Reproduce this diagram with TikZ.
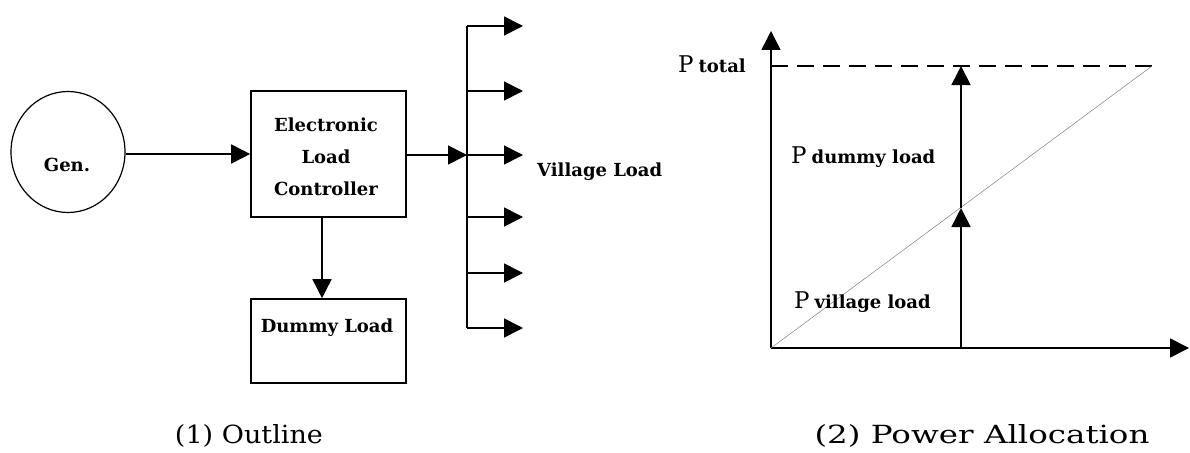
\documentclass[tikz,border=0pt]{standalone}
\usepackage{fontspec}
\setmainfont{DejaVu Serif}
\usetikzlibrary{arrows.meta,shapes.geometric}
\newcommand{\fitw}[2]{\resizebox{#1}{\height}{#2}}
\tikzset{
  arr/.style={-{Triangle[length=19pt,width=19pt]}},
  ln/.style={line width=1.6pt},
  blk/.style={draw,line width=1.6pt,inner sep=0pt},
  lbl/.style={font=\fontsize{18}{20}\selectfont\bfseries,inner sep=0pt},
  captxt/.style={font=\fontsize{25}{28}\selectfont,inner sep=0pt},
  plbl/.style={inner sep=0pt},
}
\newcommand{\Psub}[1]{{\fontsize{23}{26}\selectfont P}\hspace{5pt}{\fontsize{18}{20}\selectfont\bfseries #1}}
\begin{document}
\begin{tikzpicture}[x=1pt,y=-1pt]
\useasboundingbox (0,0) rectangle (1190,452);
% ---------- (1) Outline ----------
\node[draw,ellipse,line width=1.2pt,minimum width=114pt,minimum height=121pt,inner sep=0pt] (gen) at (68,152) {};
\node[lbl] (gentxt) at (67,165) {Gen.};
\node[blk,minimum width=155pt,minimum height=126pt] (elc) at (328.5,154) {};
\node[lbl] (elc1) at (326,125) {Electronic};
\node[lbl] (elc2) at (326,157) {Load};
\node[lbl] (elc3) at (326,189) {Controller};
\node[blk,minimum width=155pt,minimum height=84pt] (dummy) at (328.5,341) {};
\node[lbl] (dummytxt) at (327,328) {Dummy Load};
\draw[ln,arr] (gen.east |- 0,154) -- (elc.west |- 0,154);
\draw[ln,arr] ([xshift=-6.5pt]elc.south) -- ([xshift=-6.5pt]dummy.north);
% bus
\coordinate (bus1) at (467,26);
\coordinate (bus2) at (467,91);
\coordinate (bus3) at (467,155);
\coordinate (bus4) at (467,217);
\coordinate (bus5) at (467,273);
\coordinate (bus6) at (467,328);
\coordinate (out1) at (523,26);
\coordinate (out2) at (523,91);
\coordinate (out3) at (523,155);
\coordinate (out4) at (523,217);
\coordinate (out5) at (523,273);
\coordinate (out6) at (523,328);
\draw[ln] (bus1) -- (bus6);
\draw[ln,arr] (elc.east |- bus3) -- (bus3);
\foreach \i in {1,...,6} \draw[ln,arr] (bus\i) -- (out\i);
\node[lbl,anchor=west] (village) at (537,172) {Village Load};
\node[captxt] (cap1) at (249,436) {\fitw{148pt}{(1) Outline}};
% ---------- (2) Power Allocation ----------
\coordinate (O) at (771,348);
\coordinate (ytop) at (771,31);
\coordinate (xend) at (1189,348);
\coordinate (ptot) at (771,66);
\coordinate (tr) at (1152,66);
\coordinate (vb) at (961,348);
\coordinate (vm) at (961,208);
\coordinate (vt) at (961,66);
\draw[ln,arr] (O) -- (ytop);
\draw[ln,arr] (O) -- (xend);
\draw[ln,dash pattern=on 17pt off 9pt] (ptot) -- (tr);
\draw[line width=0.5pt,gray] (O) -- (tr);
\draw[ln,arr] (vb) -- (vm);
\draw[ln,arr] (vm) -- (vt);
\node[plbl,anchor=base east] (ptotal) at (746,73) {\Psub{total}};
\node[plbl,anchor=base west] (pdummy) at (791,163) {\Psub{dummy load}};
\node[plbl,anchor=base west] (pvillage) at (794,308) {\Psub{village load}};
\node[captxt] (cap2) at (982,436) {\fitw{335pt}{(2) Power Allocation}};
\end{tikzpicture}
\end{document}
